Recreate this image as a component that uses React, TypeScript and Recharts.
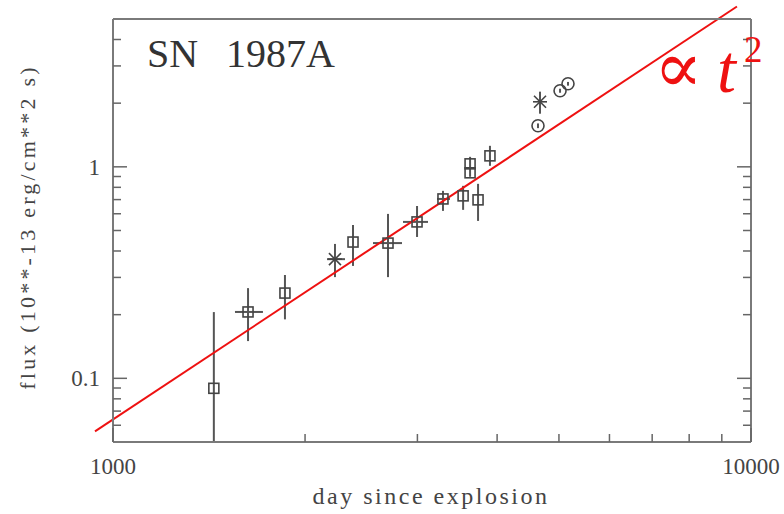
import { ScatterChart, Scatter, XAxis, YAxis, ErrorBar, ReferenceLine } from "recharts";

const days = [1439, 1628, 1860, 2228, 2378, 2698, 2996, 3290, 3538, 3628, 3628, 3734, 3898, 4636, 4670, 5020, 5166];
const flux = [0.0897, 0.206, 0.253, 0.366, 0.441, 0.436, 0.549, 0.705, 0.729, 1.033, 0.937, 0.698, 1.127, 1.564, 2.03, 2.29, 2.47];
const fluxErr: [number, number][] = [
  [0.0397, 0.116], [0.056, 0.061], [0.063, 0.055], [0.065, 0.066], [0.101, 0.09],
  [0.135, 0.163], [0.083, 0.104], [0.086, 0.065], [0.103, 0.084], [0.04, 0.082],
  [0.04, 0.05], [0.143, 0.133], [0.116, 0.13], [0.04, 0.04], [0.247, 0.237],
  [0.05, 0.05], [0.05, 0.05],
];
const dayErr: [number, number][] = [
  [0, 0], [75, 90], [0, 0], [63, 82], [0, 0],
  [142, 140], [148, 121], [70, 84], [0, 0], [0, 0],
  [0, 0], [0, 0], [0, 0], [0, 0], [0, 0],
  [0, 0], [0, 0],
];
const markers = ["s", "s", "s", "*", "s", "s", "s", "s", "s", "s", "s", "s", "s", "o", "*", "o", "o"];

// t^2 guide line end points
const fitDays = [937, 9506];
const fitFlux = [0.0561, 5.73];

const dayTicks = [1000, 2000, 3000, 4000, 5000, 6000, 7000, 8000, 9000, 10000];
const dayLabels = [1000, 10000];
const fluxTicks = [0.06, 0.07, 0.08, 0.09, 0.1, 0.2, 0.3, 0.4, 0.5, 0.6, 0.7, 0.8, 0.9, 1, 2, 3, 4];
const fluxLabels = [0.1, 1];

const data = days.map((d, i) => ({
  day: d,
  flux: flux[i],
  fluxErr: fluxErr[i],
  dayErr: dayErr[i],
  kind: markers[i],
}));

const AXIS = "#7a7a7a";
const TICK = "#666";
const INK = "#444";
const RED = "#ee1111";
const SERIF = "'Liberation Serif', 'DejaVu Serif', serif";

const BottomTick = ({ x, y, payload }: any) => {
  const major = dayLabels.includes(payload.value);
  return (
    <g>
      <line x1={x} y1={y} x2={x} y2={y - (major ? 14 : 8)} stroke={TICK} strokeWidth={1.5} />
      {major && (
        <text x={x} y={y + 32} textAnchor="middle" fontFamily={SERIF} fontSize={23} fill={INK}>
          {payload.value}
        </text>
      )}
    </g>
  );
};

const TopTick = ({ x, y }: any) => (
  <line x1={x} y1={y} x2={x} y2={y + 8} stroke={TICK} strokeWidth={1.5} />
);

const LeftTick = ({ x, y, payload }: any) => {
  const major = fluxLabels.includes(payload.value);
  return (
    <g>
      <line x1={x} y1={y} x2={x + (major ? 14 : 8)} y2={y} stroke={TICK} strokeWidth={1.5} />
      {major && (
        <text x={x - 13} y={y + 8} textAnchor="end" fontFamily={SERIF} fontSize={23} fill={INK}>
          {payload.value}
        </text>
      )}
    </g>
  );
};

const RightTick = ({ x, y, payload }: any) => {
  const major = fluxLabels.includes(payload.value);
  return <line x1={x} y1={y} x2={x - (major ? 14 : 8)} y2={y} stroke={TICK} strokeWidth={1.5} />;
};

const Marker = ({ cx, cy, payload }: any) => {
  if (cx == null || cy == null) return null;
  if (payload.kind === "o") {
    return <circle cx={cx} cy={cy} r={6} fill="none" stroke={INK} strokeWidth={1.6} />;
  }
  if (payload.kind === "*") {
    return (
      <g stroke={INK} strokeWidth={1.6}>
        <line x1={cx - 6} y1={cy - 6} x2={cx + 6} y2={cy + 6} />
        <line x1={cx - 6} y1={cy + 6} x2={cx + 6} y2={cy - 6} />
        <line x1={cx - 7} y1={cy} x2={cx + 7} y2={cy} />
      </g>
    );
  }
  return <rect x={cx - 5} y={cy - 5} width={10} height={10} fill="none" stroke={INK} strokeWidth={1.6} />;
};

export default function App() {
  return (
    <div style={{ position: "absolute", left: 0, top: 0, width: 784, height: 514, background: "#fff" }}>
      <ScatterChart width={784} height={514} margin={{ top: 0, right: 0, bottom: 0, left: 0 }}>
        <XAxis
          dataKey="day"
          type="number"
          scale="log"
          domain={[1000, 10000]}
          allowDataOverflow
          ticks={dayTicks}
          interval={0}
          height={72}
          tickSize={0}
          tickMargin={0}
          tickLine={false}
          tick={<BottomTick />}
          axisLine={{ stroke: AXIS, strokeWidth: 2 }}
        />
        <XAxis
          xAxisId="top"
          orientation="top"
          type="number"
          scale="log"
          domain={[1000, 10000]}
          allowDataOverflow
          ticks={dayTicks}
          interval={0}
          height={19}
          tickSize={0}
          tickMargin={0}
          tickLine={false}
          tick={<TopTick />}
          axisLine={{ stroke: AXIS, strokeWidth: 2 }}
        />
        <YAxis
          dataKey="flux"
          type="number"
          scale="log"
          domain={[0.05, 5]}
          allowDataOverflow
          ticks={fluxTicks}
          interval={0}
          width={113}
          tickSize={0}
          tickMargin={0}
          tickLine={false}
          tick={<LeftTick />}
          axisLine={{ stroke: AXIS, strokeWidth: 2 }}
        />
        <YAxis
          yAxisId="right"
          orientation="right"
          type="number"
          scale="log"
          domain={[0.05, 5]}
          allowDataOverflow
          ticks={fluxTicks}
          interval={0}
          width={33}
          tickSize={0}
          tickMargin={0}
          tickLine={false}
          tick={<RightTick />}
          axisLine={{ stroke: AXIS, strokeWidth: 2 }}
        />
        <Scatter data={data} shape={<Marker />} isAnimationActive={false}>
          <ErrorBar dataKey="fluxErr" direction="y" width={0} stroke="#555" strokeWidth={2} isAnimationActive={false} />
          <ErrorBar dataKey="dayErr" direction="x" width={0} stroke="#555" strokeWidth={2} isAnimationActive={false} />
        </Scatter>
        <ReferenceLine
          segment={[
            { x: fitDays[0], y: fitFlux[0] },
            { x: fitDays[1], y: fitFlux[1] },
          ]}
          ifOverflow="visible"
          stroke={RED}
          strokeWidth={2}
        />
      </ScatterChart>
      <svg
        width={784}
        height={514}
        style={{ position: "absolute", left: 0, top: 0, pointerEvents: "none" }}
      >
        <text x={147} y={67} fontFamily={SERIF} fontSize={40} fill="#333">SN</text>
        <text x={226} y={67} fontFamily={SERIF} fontSize={40} fill="#333">1987A</text>
        <text
          x={27}
          y={227}
          transform="rotate(-90 27 227)"
          textAnchor="middle"
          dominantBaseline="central"
          fontFamily={SERIF}
          fontSize={22}
          letterSpacing={3.2}
          fill={INK}
        >
          flux (10**-13 erg/cm**2 s)
        </text>
        <text x={431} y={504} textAnchor="middle" fontFamily={SERIF} fontSize={24} letterSpacing={2.5} fill={INK}>
          day since explosion
        </text>
        <text x={654} y={92} fontFamily="'DejaVu Serif', serif" fontSize={72} fill={RED}>∝</text>
        <text x={717} y={92} fontFamily={SERIF} fontStyle="italic" fontSize={68} fill={RED}>t</text>
        <text x={744} y={62} fontFamily={SERIF} fontSize={37} fill={RED}>2</text>
      </svg>
    </div>
  );
}
